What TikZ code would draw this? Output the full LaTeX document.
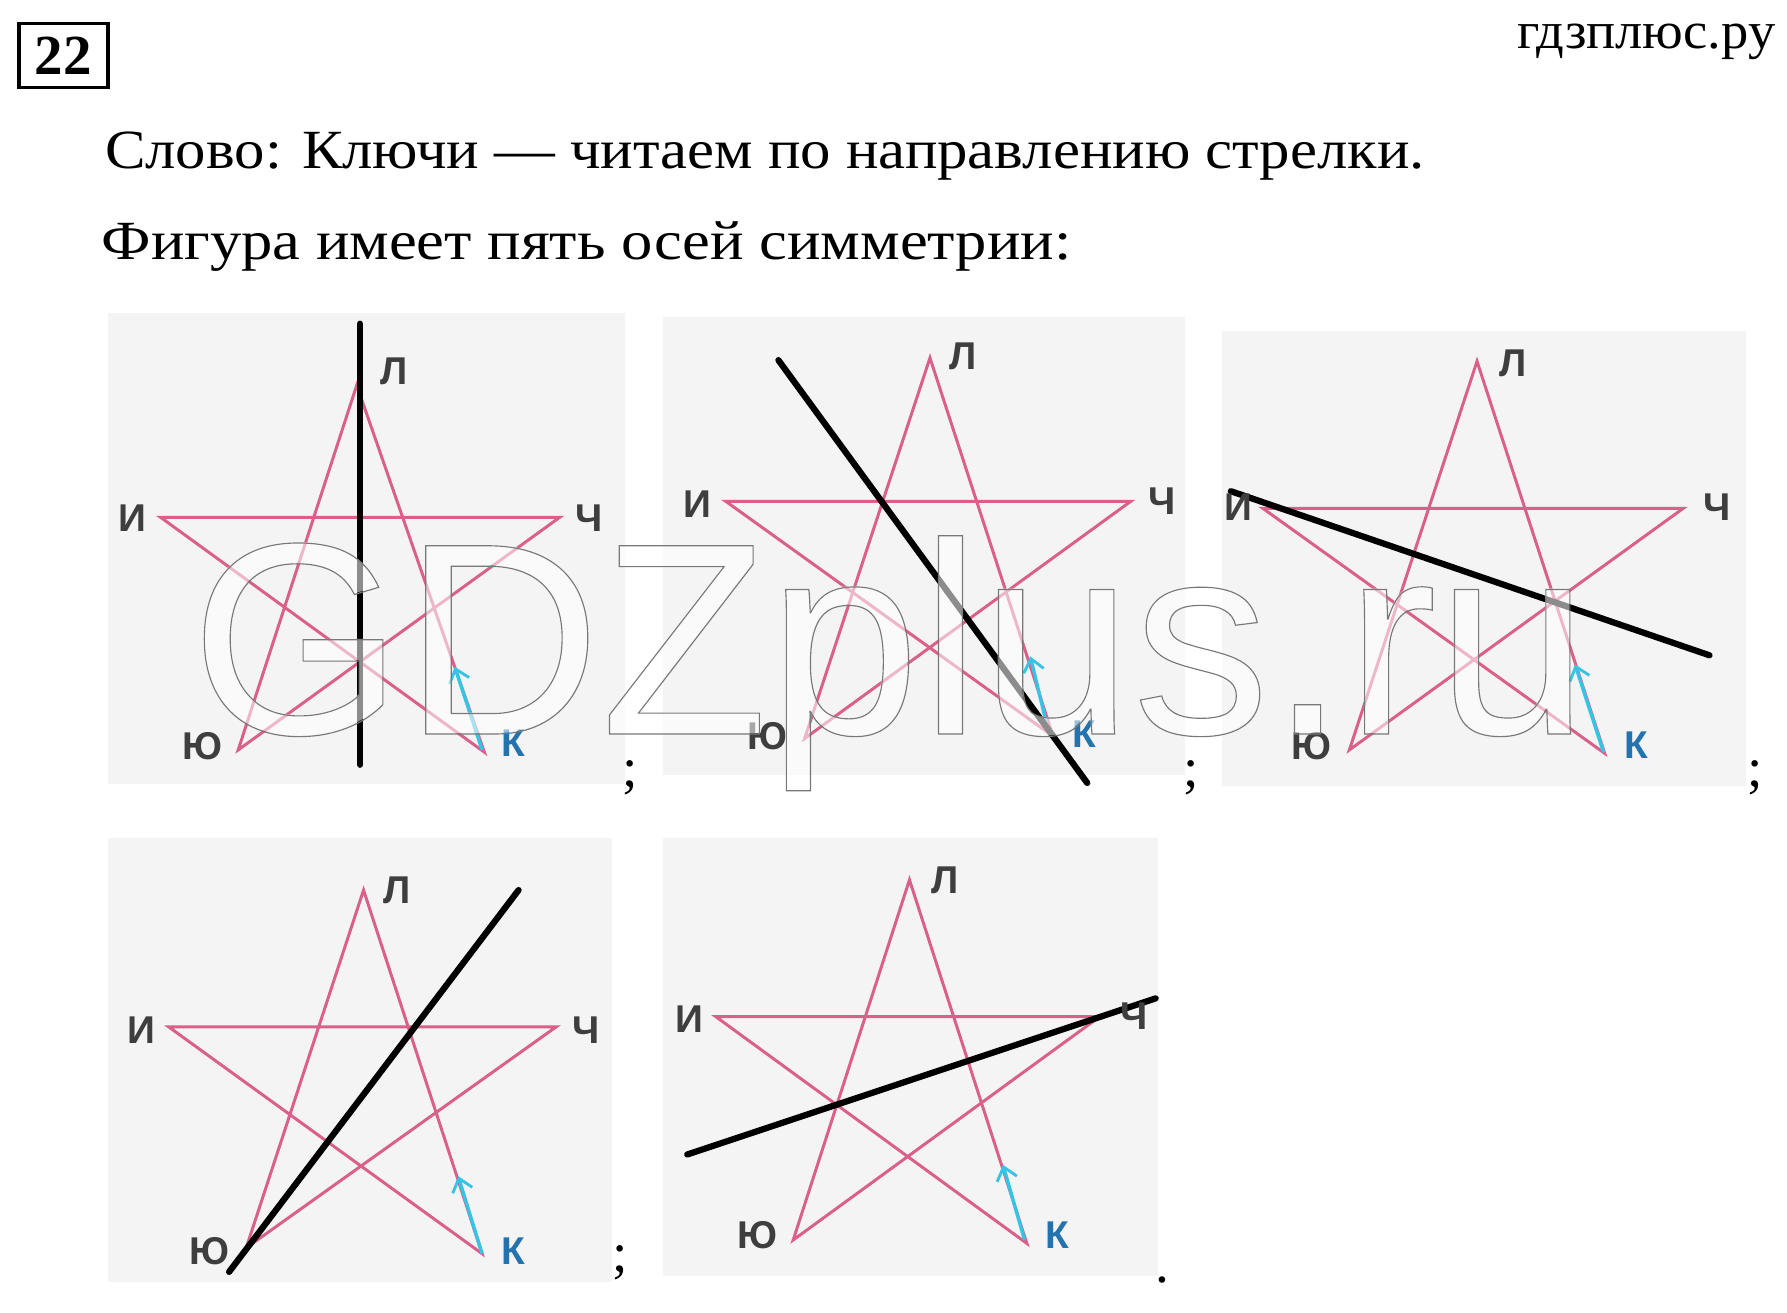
\documentclass[tikz,border=0pt]{standalone}
\usepackage{fontspec}
\setmainfont{Liberation Serif}
\newfontfamily\lblfont{Liberation Sans}
\newfontfamily\wmfont{Liberation Sans}
\usetikzlibrary{arrows.meta}
\definecolor{panelbg}{RGB}{244,244,244}
\definecolor{starpink}{RGB}{218,95,138}
\definecolor{lblgray}{RGB}{62,62,62}
\definecolor{kblue}{RGB}{35,115,175}
\definecolor{arrcyan}{RGB}{55,195,228}
\newsavebox\fitbox
\newcommand\fitto[2]{\sbox\fitbox{#2}\pgfmathsetmacro\fitf{#1/\the\wd\fitbox}\scalebox{\fitf}[1]{\usebox\fitbox}}
\tikzset{
  panel/.style={fill=panelbg, draw=none},
  starline/.style={draw=starpink, line width=2.6pt, line join=miter},
  axisline/.style={draw=black, line width=5.5pt, line cap=round},
  dirarrow/.style={draw=arrcyan, line width=3pt, -{Straight Barb[length=11pt,width=18pt,line width=2.5pt]}},
  vlabel/.style={font=\lblfont\bfseries\fontsize{34}{40}\selectfont, text=lblgray, inner sep=0},
  klabel/.style={vlabel, text=kblue},
  bodytext/.style={anchor=base west, inner sep=0, font=\fontsize{48.5}{58}\selectfont},
  wmtext/.style={anchor=base west, inner sep=0, font=\wmfont\fontsize{240}{240}\selectfont},
}
\begin{document}
\begin{tikzpicture}[x=1pt,y=-1pt]
\useasboundingbox (0,0) rectangle (1568,1152);
\fill[white] (0,0) rectangle (1568,1152);

% header
\node[draw=black, line width=3.3pt, minimum width=78pt, minimum height=56pt, inner sep=0] (numbox) at (55.75,48.7) {};
\node[anchor=base, inner sep=0, font=\bfseries\fontsize{49.7}{58}\selectfont] (numtxt) at (55.5,65.8) {\fitto{50}{22}};
\node[bodytext, font=\fontsize{45.7}{54}\selectfont] (site) at (1331,42.4) {\fitto{226.5}{гдзплюс.ру}};
\node[bodytext] (line1) at (92,147.7) {\fitto{1158}{Слово: Ключи — читаем по направлению стрелки.}};
\node[bodytext] (line2) at (89,228.1) {\fitto{851}{Фигура имеет пять осей симметрии:}};

% panel backgrounds
\fill[panel] (95,275) rectangle (548,688);
\fill[panel] (582,278) rectangle (1040,680);
\fill[panel] (1072,290) rectangle (1532,690);
\fill[panel] (95,735) rectangle (537,1125);
\fill[panel] (582,735) rectangle (1016,1120);

% vertices: L (Л), I (И), C (Ч), Y (Ю), K (К); arrow tail/head; axis ends
\coordinate (p1L) at (313,338);  \coordinate (p1I) at (141,454);  \coordinate (p1C) at (491,454);
\coordinate (p1Y) at (209,658);  \coordinate (p1K) at (425,660);
\coordinate (p1At) at (423,658); \coordinate (p1Ah) at (399,585);
\coordinate (p1Xa) at (316,284); \coordinate (p1Xb) at (316,671);

\coordinate (p2L) at (816,314);  \coordinate (p2I) at (637,440);  \coordinate (p2C) at (992,440);
\coordinate (p2Y) at (706,648);  \coordinate (p2K) at (924,646);
\coordinate (p2At) at (920,642); \coordinate (p2Ah) at (904,576);
\coordinate (p2Xa) at (683,316); \coordinate (p2Xb) at (954,687);

\coordinate (p3L) at (1296,317); \coordinate (p3I) at (1108,446); \coordinate (p3C) at (1477,446);
\coordinate (p3Y) at (1184,658); \coordinate (p3K) at (1408,661);
\coordinate (p3At) at (1407,660); \coordinate (p3Ah) at (1382,583);
\coordinate (p3Xa) at (1080,431); \coordinate (p3Xb) at (1500,575);

\coordinate (p4L) at (319,781);  \coordinate (p4I) at (148,901);  \coordinate (p4C) at (488,901);
\coordinate (p4Y) at (216,1095); \coordinate (p4K) at (423,1100);
\coordinate (p4At) at (423,1100); \coordinate (p4Ah) at (402,1032);
\coordinate (p4Xa) at (455,781); \coordinate (p4Xb) at (201,1116);

\coordinate (p5L) at (798,772);  \coordinate (p5I) at (628,892);  \coordinate (p5C) at (965,892);
\coordinate (p5Y) at (696,1088); \coordinate (p5K) at (901,1091);
\coordinate (p5At) at (899,1088); \coordinate (p5Ah) at (880,1022);
\coordinate (p5Xa) at (603,1013); \coordinate (p5Xb) at (1014,876);

\foreach \p in {1,...,5} {
  \draw[starline] (p\p L) -- (p\p Y) -- (p\p C) -- (p\p I) -- (p\p K) -- cycle;
  \draw[dirarrow] (p\p At) -- (p\p Ah);
  \draw[axisline] (p\p Xa) -- (p\p Xb);
}

% labels
\node[vlabel] (p1tL) at (346,326) {Л};  \node[vlabel] (p1tI) at (116,455) {И};
\node[vlabel] (p1tC) at (517,455) {Ч};  \node[vlabel] (p1tY) at (178,655) {Ю};
\node[klabel] (p1tK) at (450,652) {К};

\node[vlabel] (p2tL) at (845,313) {Л};  \node[vlabel] (p2tI) at (612,442) {И};
\node[vlabel] (p2tC) at (1020,440) {Ч}; \node[vlabel] (p2tY) at (673,646) {Ю};
\node[klabel] (p2tK) at (951,644) {К};

\node[vlabel] (p3tL) at (1328,319) {Л}; \node[vlabel] (p3tI) at (1087,445) {И};
\node[vlabel] (p3tC) at (1507,445) {Ч}; \node[vlabel] (p3tY) at (1151,655) {Ю};
\node[klabel] (p3tK) at (1436,654) {К};

\node[vlabel] (p4tL) at (348,781) {Л};  \node[vlabel] (p4tI) at (124,904) {И};
\node[vlabel] (p4tC) at (514,904) {Ч};  \node[vlabel] (p4tY) at (184,1098) {Ю};
\node[klabel] (p4tK) at (450,1098) {К};

\node[vlabel] (p5tL) at (829,772) {Л};  \node[vlabel] (p5tI) at (605,894) {И};
\node[vlabel] (p5tC) at (995,892) {Ч};  \node[vlabel] (p5tY) at (665,1084) {Ю};
\node[klabel] (p5tK) at (928,1084) {К};

% punctuation after panels
\node[bodytext] (semi1) at (546,690) {;};
\node[bodytext] (semi2) at (1038,690) {;};
\node[bodytext] (semi3) at (1533,690) {;};
\node[bodytext] (semi4) at (537,1116) {;};
\node[bodytext] (stop5) at (1014,1125) {.};

% watermark
\node[wmtext, text=white, text opacity=0.55] (wmfill) at (167,644) {GDZplus.ru};
\node[wmtext] (wmline) at (167,644) {\special{pdf:literal direct 0.47 0.47 0.47 RG 1 w 1 Tr}GDZplus.ru\special{pdf:literal direct 0 Tr}};
\end{tikzpicture}
\end{document}
